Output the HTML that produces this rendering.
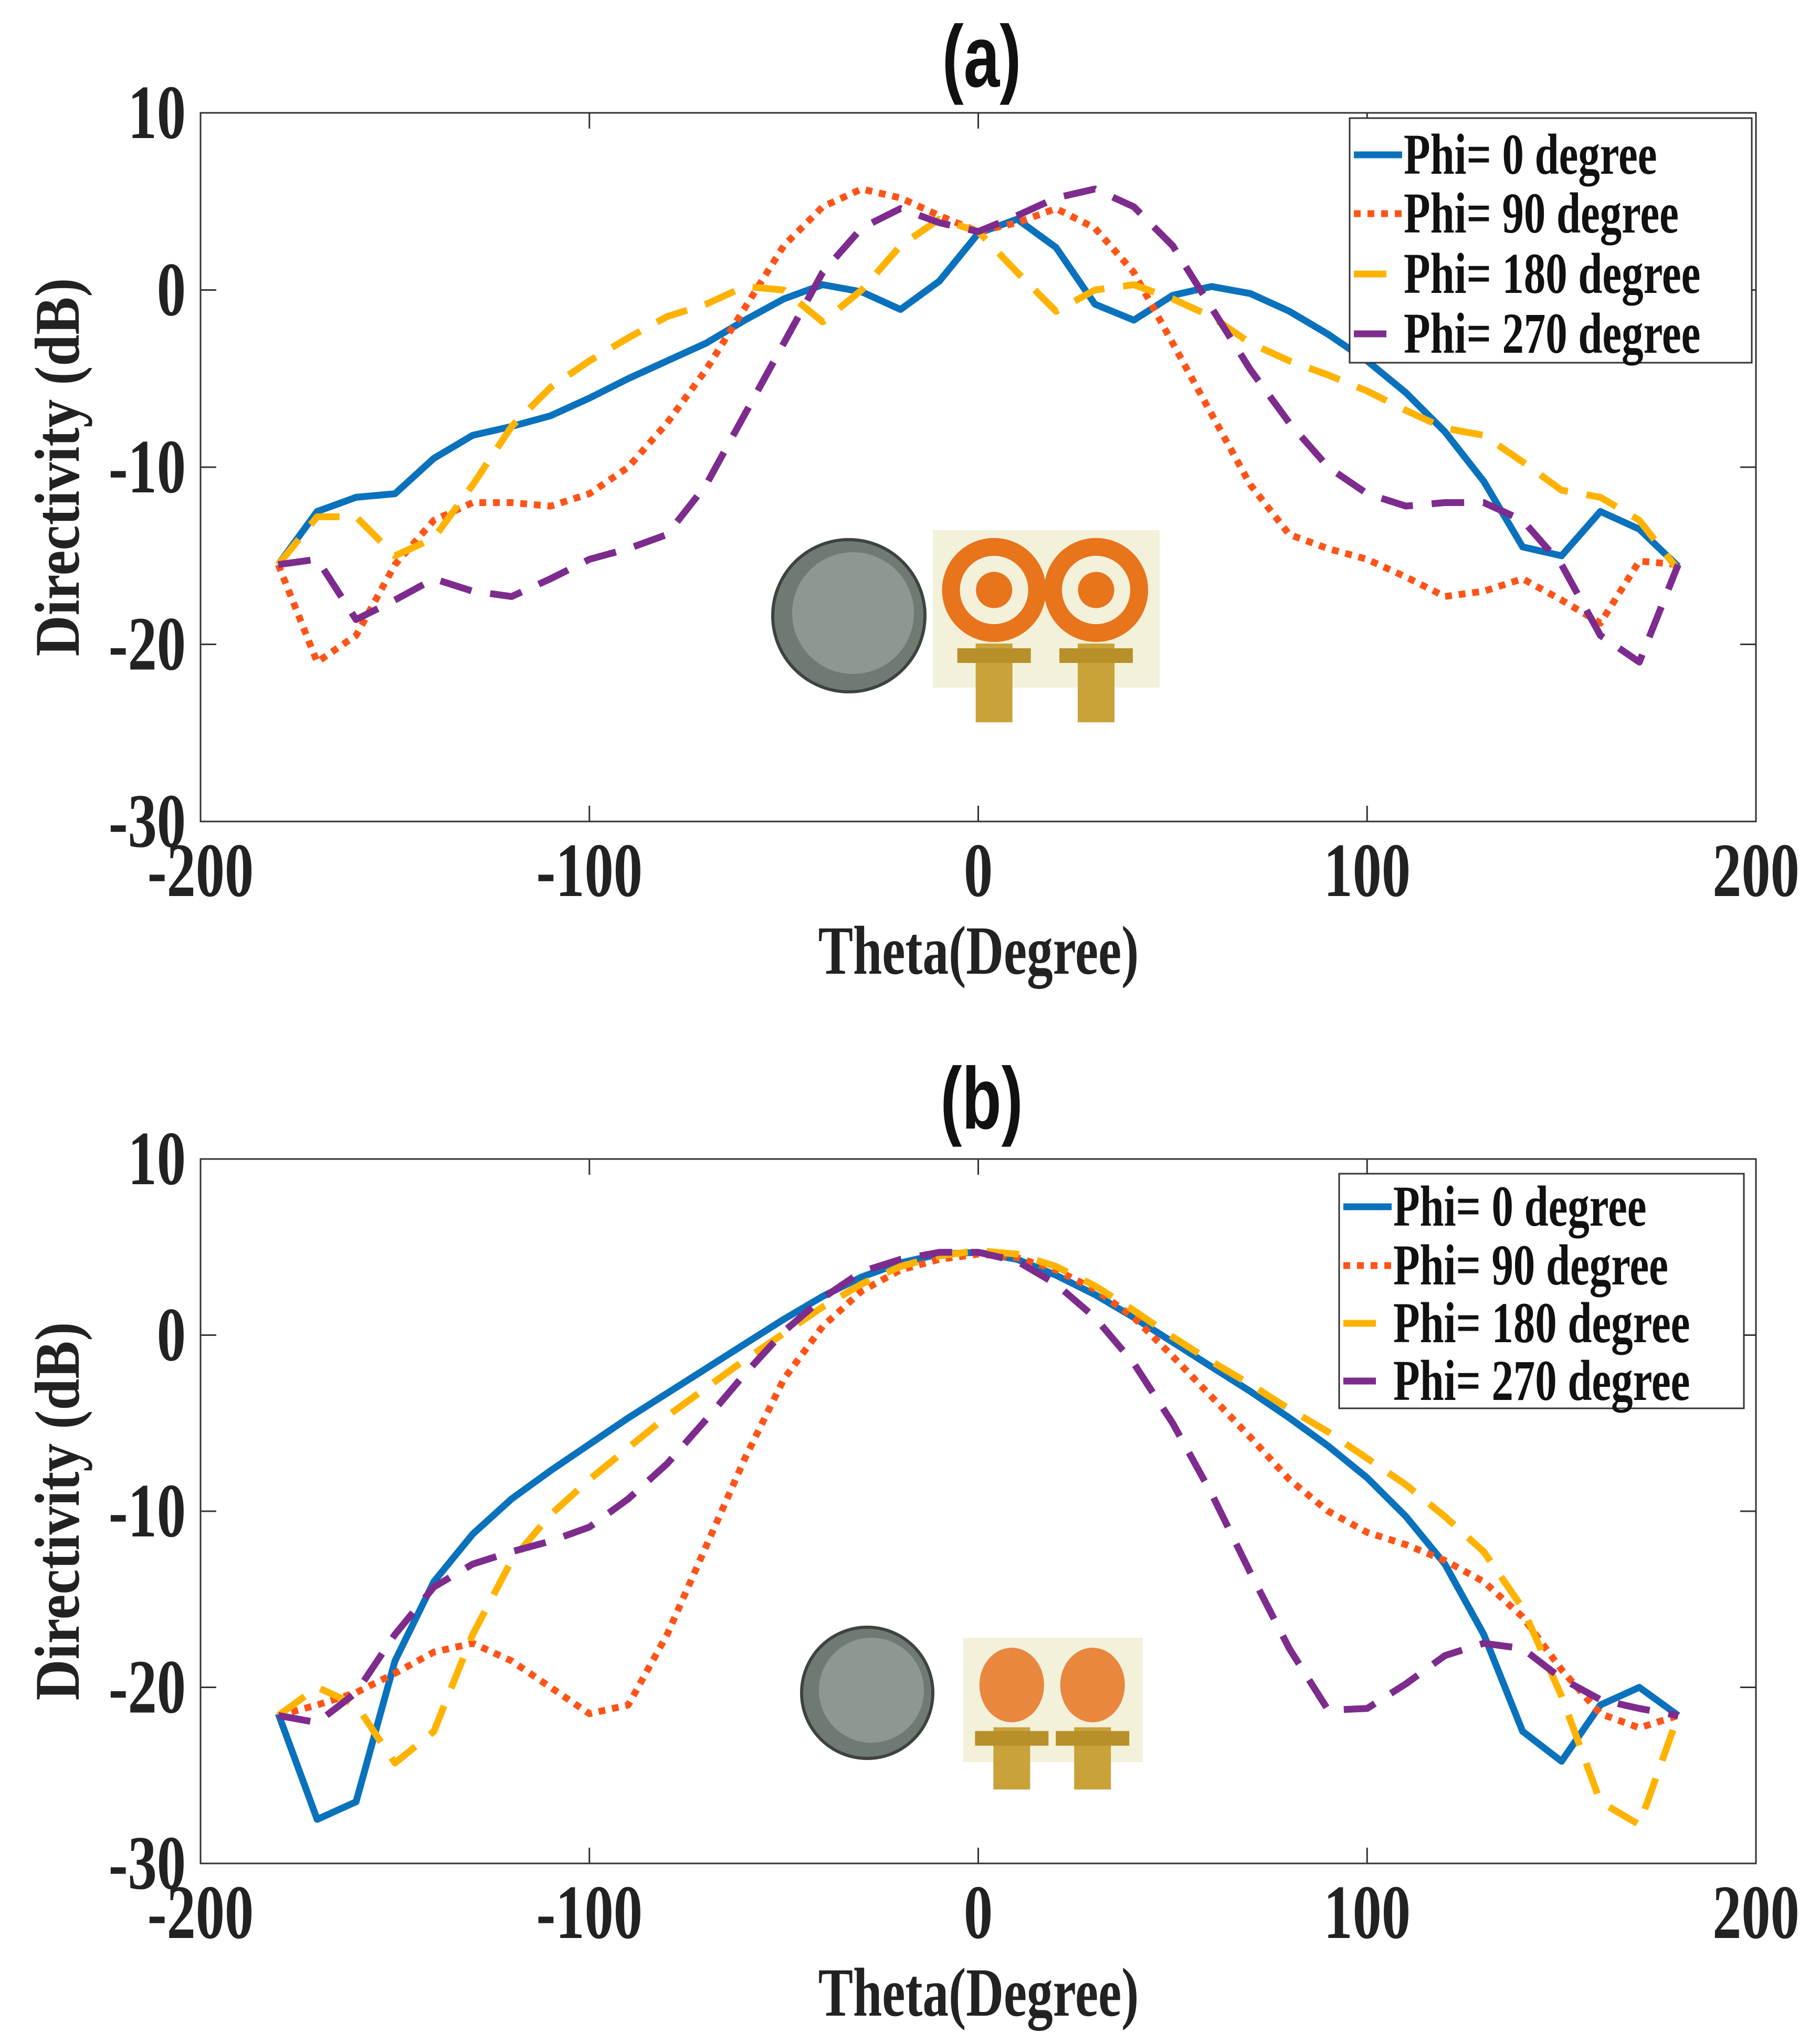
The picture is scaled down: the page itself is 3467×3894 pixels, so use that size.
<!DOCTYPE html>
<html><head><meta charset="utf-8">
<style>
html,body{margin:0;padding:0;background:#fff;}
svg{display:block;}
.tick{font-family:"Liberation Serif",serif;font-weight:bold;font-size:120px;fill:#222;}
.atitle{font-family:"Liberation Serif",serif;font-weight:bold;font-size:108px;fill:#222;}
.ptitle{font-family:"Liberation Sans",sans-serif;font-weight:bold;font-size:145px;fill:#111;}
.leg{font-family:"Liberation Serif",serif;font-weight:bold;font-size:90px;fill:#111;}
</style></head>
<body>
<svg id="fig" width="3467" height="3894" viewBox="0 0 3467 3894" xmlns="http://www.w3.org/2000/svg"></svg>
<script>
const theta = [-180,-170,-160,-150,-140,-130,-120,-110,-100,-90,-80,-70,-60,-50,-40,-30,-20,-10,0,10,20,30,40,50,60,70,80,90,100,110,120,130,140,150,160,170,180];
const seriesNames = ["Phi= 0 degree","Phi= 90 degree","Phi= 180 degree","Phi= 270 degree"];
const xTicks = [-200,-100,0,100,200];
const yTicks = [10,0,-10,-20,-30];
const aPhi0 = [-15.5,-12.5,-11.7,-11.5,-9.5,-8.2,-7.7,-7.1,-6.1,-5,-4,-3,-1.7,-0.5,0.3,-0.1,-1.1,0.5,3.2,4,2.4,-0.8,-1.7,-0.3,0.2,-0.2,-1.2,-2.5,-4,-5.8,-8,-10.8,-14.5,-15,-12.5,-13.5,-15.6];
const aPhi90 = [-15.5,-21,-19.5,-15.5,-13,-12,-12,-12.2,-11.5,-10,-7.5,-4.5,-1,2.5,4.7,5.7,5.2,4.2,3.3,3.8,4.6,3.5,1,-3,-7,-11,-13.8,-14.6,-15.2,-16.2,-17.3,-17,-16.3,-17.5,-18.8,-15.3,-15.5];
const aPhi180 = [-15.5,-12.8,-12.8,-15,-14,-11,-7.7,-5.5,-4,-2.7,-1.5,-0.8,0.2,0,-1.8,0,2.5,4,3.3,1,-1.2,0,0.3,-0.5,-1.5,-3,-4,-4.8,-5.7,-6.8,-7.8,-8.2,-9.7,-11.3,-11.7,-13,-15.8];
const aPhi270 = [-15.5,-15.2,-18.6,-17.5,-16.3,-17,-17.3,-16.3,-15.2,-14.6,-13.8,-11,-7,-3,1,3.5,4.6,3.8,3.3,4.2,5.2,5.7,4.7,2.5,-1,-4.5,-7.5,-10,-11.5,-12.2,-12,-12,-13,-15.5,-19.5,-21,-15.5];
const bPhi0 = [-21.5,-27.5,-26.5,-18.5,-14,-11.3,-9.3,-7.7,-6.2,-4.7,-3.3,-1.9,-0.5,0.9,2.2,3.3,4.1,4.6,4.7,4.3,3.4,2.3,1,-0.4,-1.8,-3.2,-4.7,-6.3,-8.1,-10.3,-13,-17,-22.5,-24.2,-21,-20,-21.6];
const bPhi90 = [-21.6,-21,-20.3,-19.2,-18,-17.5,-18.5,-20,-21.5,-21,-17,-12,-7,-2.5,0.5,2.5,3.7,4.3,4.6,4.4,3.7,2.6,1,-1.2,-3.5,-5.8,-8.2,-10,-11.2,-11.9,-12.8,-14,-16,-19,-21.5,-22.3,-21.6];
const bPhi180 = [-21.6,-20,-21,-24.3,-22.5,-17,-12.8,-10.2,-8.2,-6.4,-4.6,-3,-1.4,0.1,1.6,2.9,3.9,4.5,4.8,4.6,3.9,2.8,1.4,-0.1,-1.5,-2.8,-4.2,-5.5,-7,-8.5,-10.3,-12.3,-15.5,-20.5,-26.5,-27.8,-21.6];
const bPhi270 = [-21.6,-22,-20.3,-17,-14.3,-13,-12.3,-11.7,-10.9,-9.3,-7.3,-4.8,-2.2,0.2,2.1,3.6,4.3,4.7,4.7,4.2,2.9,1,-1.6,-5,-9,-13.5,-17.8,-21.3,-21.2,-19.8,-18.2,-17.5,-17.8,-19.5,-20.7,-21.2,-21.6];

const NS="http://www.w3.org/2000/svg";
const svg=document.getElementById('fig');
const styles=[
 {c:"#0a72bd",d:null},
 {c:"#ff5418",d:"13 13"},
 {c:"#ffb300",d:"62 36"},
 {c:"#7e2b8e",d:"62 36"}
];
function mk(tag,attrs,parent){const e=document.createElementNS(NS,tag);for(const k in attrs)e.setAttribute(k,attrs[k]);(parent||svg).appendChild(e);return e;}
function txt(parent,x,y,anchor,cls,s,extra){
 const e=mk('text',{x:0,y:0,'text-anchor':anchor,class:cls,transform:`translate(${x},${y}) ${extra||''} scale(0.92,1.22)`},parent);
 e.textContent=s;return e;
}

function panel(id,top,bottom,titleTxt,titleY,data,leg,photo){
 const L=382,R=3345;
 const g=mk('g',{});
 
 
 const xs=v=>L+(v+200)/400*(R-L);
 const ys=v=>top+(10-v)/40*(bottom-top);
 const t=mk('text',{x:0,y:0,'text-anchor':'middle',class:'ptitle',transform:`translate(1870,${titleY}) scale(0.85,1.15)`},g);t.textContent=titleTxt;
 
 // photo
 const ph=mk('g',{},g);
 mk('circle',{cx:photo.cx,cy:photo.cy,r:photo.r,fill:'#6f7a72',stroke:'#3d4440','stroke-width':6},ph);
 mk('circle',{cx:photo.cx+8,cy:photo.cy-5,r:photo.r*0.8,fill:'#8d9890'},ph);
 mk('rect',{x:photo.bx,y:photo.by,width:photo.bw,height:photo.bh,fill:'#f3f1da'},ph);
 for(const k of [0,1]){
  const cx=photo.bx+photo.bw*(k?0.72:0.27), cy=photo.by+photo.bh*0.38;
  if(photo.rings){
   mk('circle',{cx,cy,r:photo.bw*0.19,fill:'none',stroke:'#e8741c','stroke-width':34},ph);
   mk('circle',{cx,cy,r:photo.bw*0.08,fill:'#e8741c'},ph);
  } else {
   mk('ellipse',{cx,cy,rx:photo.bw*0.18,ry:photo.bh*0.3,fill:'#e9873f'},ph);
  }
  mk('rect',{x:cx-35,y:photo.by+photo.bh*0.72,width:70,height:photo.bh*0.5,fill:'#c9a23a'},ph);
  mk('rect',{x:cx-70,y:photo.by+photo.bh*0.75,width:140,height:28,fill:'#b8902a'},ph);
 }
 const ax=mk('rect',{x:L,y:top,width:R-L,height:bottom-top,fill:'none',stroke:'#333','stroke-width':3},g);
 
 for(const v of xTicks){const x=xs(v);
  mk('line',{x1:x,y1:bottom,x2:x,y2:bottom-30,stroke:'#333','stroke-width':3},g);
  mk('line',{x1:x,y1:top,x2:x,y2:top+30,stroke:'#333','stroke-width':3},g);
  const tl=txt(g,x,bottom+142,'middle','tick',v);
  }
 for(const v of yTicks){const y=ys(v);
  mk('line',{x1:L,y1:y,x2:L+30,y2:y,stroke:'#333','stroke-width':3},g);
  mk('line',{x1:R,y1:y,x2:R-30,y2:y,stroke:'#333','stroke-width':3},g);
  const tl=txt(g,L-28,y+48,'end','tick',v);
  }
 const xt=txt(g,1864,bottom+290,'middle','atitle','Theta(Degree)');
 
 const cy=(top+bottom)/2;
 const yt=mk('text',{x:0,y:0,'text-anchor':'middle',class:'atitle',transform:`translate(150,${cy}) rotate(-90) scale(1,1.12)`},g);yt.textContent='Directivity (dB)';
 
 data.forEach((arr,i)=>{
  const pts=arr.map((v,j)=>xs(theta[j]).toFixed(1)+','+ys(v).toFixed(1)).join(' ');
  const a={points:pts,fill:'none',stroke:styles[i].c,'stroke-width':13,'stroke-linejoin':'round'};
  if(styles[i].d)a['stroke-dasharray']=styles[i].d;
  const pl=mk('polyline',a,g);
  
  
 });
 const lg=mk('g',{},g);
 mk('rect',{x:leg.x,y:leg.y,width:leg.w,height:leg.h,fill:'#fff',stroke:'#333','stroke-width':3},lg);
 seriesNames.forEach((n,i)=>{
  const y=leg.ey[i];
  const a={x1:leg.x+8,y1:y,x2:leg.x+100,y2:y,stroke:styles[i].c,'stroke-width':13};
  if(styles[i].d)a['stroke-dasharray']=i==1?"13 13":"62 36";
  mk('line',a,lg);
  const tx=txt(lg,leg.x+103,y+36,'start','leg',n);
  
 });
}
panel('panel-a',215,1565,'(a)',165,[aPhi0,aPhi90,aPhi180,aPhi270],
 {x:2571,y:225,w:766,h:466,ey:[295,407,522,636]},
 {cx:1617,cy:1173,r:145,bx:1777,by:1010,bw:432,bh:300,rings:true});
panel('panel-b',2208,3550,'(b)',2150,[bPhi0,bPhi90,bPhi180,bPhi270],
 {x:2551,y:2236,w:771,h:447,ey:[2299,2411,2521,2631],},
 {cx:1652,cy:3225,r:125,bx:1835,by:3120,bw:342,bh:237,rings:false});
</script>
</body></html>
